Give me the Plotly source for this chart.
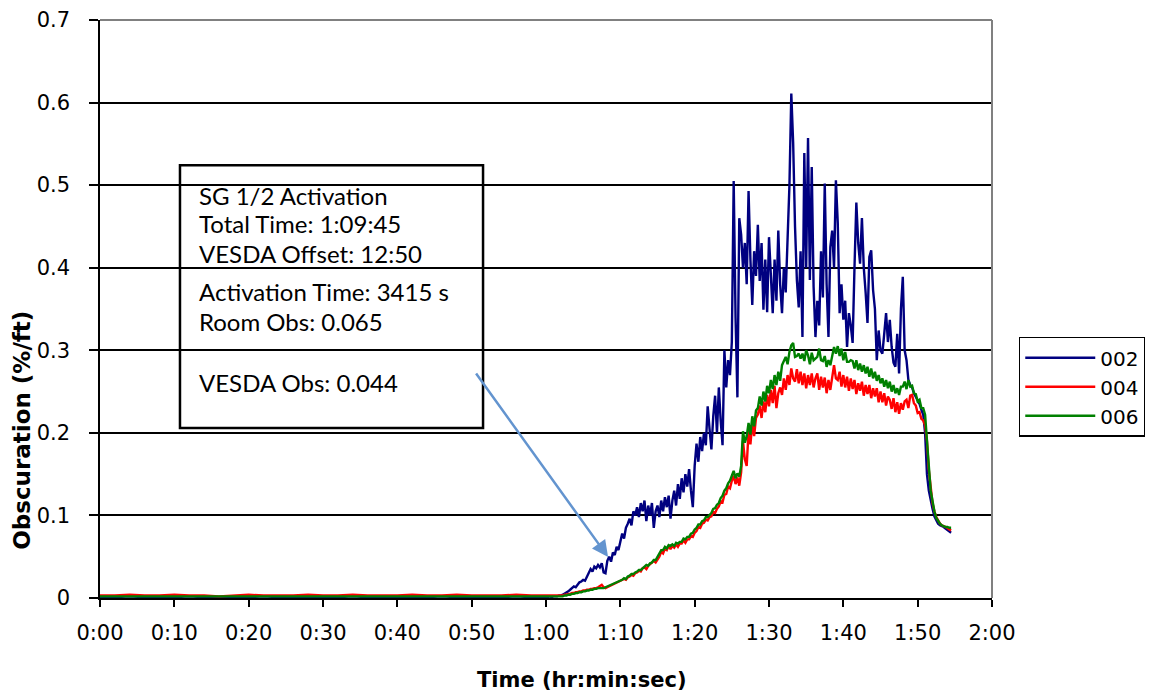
import plotly.graph_objects as go

# ---------------- data (minutes, %/ft) ----------------
tick_minutes = [0, 10, 20, 30, 40, 50, 60, 70, 80, 90, 100, 110, 120]
tick_labels = ["0:00", "0:10", "0:20", "0:30", "0:40", "0:50", "1:00",
               "1:10", "1:20", "1:30", "1:40", "1:50", "2:00"]

# baseline samples every 2 min from 0:00 to 1:00
t_base = list(range(0, 61, 2))
blue_base = [0.001, 0.001, 0.002, 0.001, 0.001, 0.001, 0.002, 0.001, 0.001, 0.001, 0.001,
             0.002, 0.001, 0.001, 0.001, 0.001, 0.001, 0.002, 0.001, 0.001, 0.001, 0.001,
             0.001, 0.002, 0.001, 0.001, 0.001, 0.001, 0.002, 0.001, 0.001]
red_base = [0.003, 0.003, 0.004, 0.003, 0.003, 0.004, 0.003, 0.003, 0.002, 0.003, 0.004,
            0.003, 0.003, 0.003, 0.004, 0.003, 0.003, 0.004, 0.003, 0.003, 0.003, 0.004,
            0.003, 0.003, 0.004, 0.003, 0.003, 0.003, 0.004, 0.003, 0.003]
green_base = [0.002, 0.002, 0.002, 0.002, 0.002, 0.002, 0.002, 0.002, 0.002, 0.002, 0.002,
              0.002, 0.002, 0.002, 0.002, 0.002, 0.002, 0.002, 0.002, 0.002, 0.002, 0.002,
              0.002, 0.002, 0.002, 0.002, 0.002, 0.002, 0.002, 0.002, 0.002]

# active period, sampled every 15 s from 1:00:15 to 1:54:30 (rows = one minute each)
blue_active = [
    0.001, 0.002, 0.001, 0.002,   # 60
    0.002, 0.002, 0.003, 0.003,   # 61
    0.004, 0.005, 0.007, 0.008,   # 62
    0.010, 0.012, 0.014, 0.013,   # 63
    0.016, 0.019, 0.020, 0.022,   # 64
    0.021, 0.026, 0.030, 0.035,   # 65
    0.032, 0.038, 0.036, 0.040,   # 66
    0.037, 0.042, 0.031, 0.030,   # 67
    0.045, 0.050, 0.044, 0.055,   # 68
    0.052, 0.062, 0.058, 0.067,   # 69
    0.078, 0.072, 0.085, 0.090,   # 70
    0.096, 0.088, 0.105, 0.100,   # 71
    0.110, 0.098, 0.115, 0.105,   # 72
    0.118, 0.093, 0.112, 0.100,   # 73
    0.115, 0.085, 0.105, 0.112,   # 74
    0.098, 0.118, 0.105, 0.122,   # 75
    0.110, 0.124, 0.096, 0.118,   # 76
    0.130, 0.112, 0.138, 0.120,   # 77
    0.145, 0.128, 0.150, 0.135,   # 78
    0.156, 0.130, 0.110, 0.160,   # 79
    0.187, 0.165, 0.195, 0.178,   # 80
    0.200, 0.185, 0.232, 0.205,   # 81
    0.180, 0.220, 0.245, 0.200,   # 82
    0.255, 0.215, 0.185, 0.300,   # 83
    0.255, 0.288, 0.270, 0.310,   # 84
    0.505, 0.340, 0.243, 0.460,   # 85
    0.440, 0.400, 0.430, 0.380,   # 86
    0.493, 0.410, 0.355, 0.420,   # 87
    0.390, 0.452, 0.384, 0.430,   # 88
    0.349, 0.410, 0.346, 0.437,   # 89
    0.390, 0.345, 0.410, 0.360,   # 90
    0.445, 0.380, 0.345, 0.400,   # 91
    0.370, 0.425, 0.500, 0.611,   # 92
    0.551, 0.450, 0.385, 0.352,   # 93
    0.420, 0.316, 0.539, 0.400,   # 94
    0.557, 0.385, 0.522, 0.377,   # 95
    0.316, 0.360, 0.330, 0.420,   # 96
    0.364, 0.502, 0.380, 0.316,   # 97
    0.425, 0.445, 0.400, 0.506,   # 98
    0.454, 0.345, 0.380, 0.337,   # 99
    0.360, 0.304, 0.345, 0.330,   # 100
    0.309, 0.400, 0.479, 0.430,   # 101
    0.405, 0.460, 0.400, 0.370,   # 102
    0.333, 0.413, 0.421, 0.373,   # 103
    0.350, 0.288, 0.324, 0.300,   # 104
    0.296, 0.320, 0.345, 0.310,   # 105
    0.337, 0.304, 0.285, 0.280,   # 106
    0.320, 0.272, 0.350, 0.389,   # 107
    0.300, 0.288, 0.264, 0.258,   # 108
    0.255, 0.248, 0.244, 0.240,   # 109
    0.235, 0.228, 0.222, 0.200,   # 110
    0.150, 0.130, 0.118, 0.108,   # 111
    0.099, 0.094, 0.090, 0.088,   # 112
    0.087, 0.086, 0.084, 0.082,   # 113
    0.080, 0.079,                 # 114
]
red_active = [
    0.003, 0.003, 0.003, 0.003,   # 60
    0.003, 0.003, 0.003, 0.003,   # 61
    0.003, 0.004, 0.004, 0.005,   # 62
    0.005, 0.006, 0.006, 0.007,   # 63
    0.007, 0.008, 0.008, 0.009,   # 64
    0.009, 0.010, 0.010, 0.011,   # 65
    0.011, 0.012, 0.012, 0.013,   # 66
    0.014, 0.016, 0.013, 0.012,   # 67
    0.013, 0.014, 0.015, 0.016,   # 68
    0.017, 0.018, 0.019, 0.020,   # 69
    0.021, 0.023, 0.022, 0.025,   # 70
    0.026, 0.028, 0.027, 0.030,   # 71
    0.031, 0.033, 0.032, 0.036,   # 72
    0.037, 0.035, 0.039, 0.041,   # 73
    0.042, 0.045, 0.043, 0.047,   # 74
    0.050, 0.056, 0.054, 0.060,   # 75
    0.058, 0.063, 0.059, 0.063,   # 76
    0.061, 0.065, 0.062, 0.066,   # 77
    0.066, 0.070, 0.067, 0.071,   # 78
    0.071, 0.075, 0.074, 0.079,   # 79
    0.081, 0.086, 0.085, 0.090,   # 80
    0.091, 0.095, 0.094, 0.098,   # 81
    0.099, 0.104, 0.103, 0.108,   # 82
    0.111, 0.117, 0.116, 0.125,   # 83
    0.126, 0.135, 0.133, 0.142,   # 84
    0.148, 0.138, 0.146, 0.136,   # 85
    0.152, 0.190, 0.168, 0.160,   # 86
    0.202, 0.186, 0.212, 0.196,   # 87
    0.218, 0.222, 0.233, 0.218,   # 88
    0.238, 0.225, 0.246, 0.232,   # 89
    0.252, 0.236, 0.257, 0.230,   # 90
    0.248, 0.255, 0.246, 0.266,   # 91
    0.252, 0.270, 0.258, 0.278,   # 92
    0.266, 0.262, 0.277, 0.260,   # 93
    0.274, 0.258, 0.272, 0.254,   # 94
    0.270, 0.258, 0.272, 0.255,   # 95
    0.266, 0.272, 0.252, 0.268,   # 96
    0.255, 0.267, 0.248, 0.264,   # 97
    0.252, 0.267, 0.282, 0.266,   # 98
    0.264, 0.274, 0.256, 0.270,   # 99
    0.255, 0.268, 0.251, 0.266,   # 100
    0.253, 0.264, 0.247, 0.260,   # 101
    0.251, 0.262, 0.245, 0.258,   # 102
    0.247, 0.258, 0.242, 0.254,   # 103
    0.244, 0.254, 0.237, 0.250,   # 104
    0.237, 0.248, 0.233, 0.244,   # 105
    0.240, 0.229, 0.242, 0.225,   # 106
    0.237, 0.223, 0.236, 0.228,   # 107
    0.238, 0.240, 0.230, 0.245,   # 108
    0.246, 0.236, 0.233, 0.224,   # 109
    0.225, 0.217, 0.215, 0.209,   # 110
    0.190, 0.155, 0.130, 0.115,   # 111
    0.105, 0.098, 0.094, 0.090,   # 112
    0.088, 0.087, 0.086, 0.085,   # 113
    0.083, 0.082,                 # 114
]
green_active = [
    0.002, 0.002, 0.002, 0.002,   # 60
    0.002, 0.002, 0.002, 0.002,   # 61
    0.002, 0.003, 0.003, 0.004,   # 62
    0.004, 0.005, 0.005, 0.006,   # 63
    0.006, 0.007, 0.007, 0.008,   # 64
    0.008, 0.009, 0.009, 0.010,   # 65
    0.010, 0.011, 0.011, 0.012,   # 66
    0.012, 0.012, 0.012, 0.013,   # 67
    0.014, 0.015, 0.016, 0.017,   # 68
    0.018, 0.019, 0.020, 0.021,   # 69
    0.022, 0.024, 0.023, 0.026,   # 70
    0.027, 0.029, 0.029, 0.031,   # 71
    0.032, 0.034, 0.034, 0.036,   # 72
    0.038, 0.040, 0.039, 0.042,   # 73
    0.043, 0.046, 0.046, 0.050,   # 74
    0.054, 0.058, 0.058, 0.062,   # 75
    0.060, 0.064, 0.063, 0.065,   # 76
    0.063, 0.067, 0.066, 0.068,   # 77
    0.068, 0.072, 0.071, 0.074,   # 78
    0.074, 0.078, 0.079, 0.083,   # 79
    0.085, 0.089, 0.089, 0.093,   # 80
    0.094, 0.098, 0.098, 0.101,   # 81
    0.103, 0.108, 0.109, 0.113,   # 82
    0.115, 0.121, 0.124, 0.130,   # 83
    0.133, 0.139, 0.142, 0.148,   # 84
    0.154, 0.145, 0.151, 0.147,   # 85
    0.160, 0.202, 0.188, 0.196,   # 86
    0.212, 0.198, 0.220, 0.208,   # 87
    0.227, 0.230, 0.244, 0.233,   # 88
    0.250, 0.238, 0.257, 0.248,   # 89
    0.264, 0.253, 0.270, 0.258,   # 90
    0.274, 0.263, 0.282, 0.287,   # 91
    0.292, 0.283, 0.298, 0.306,   # 92
    0.309, 0.292, 0.293, 0.296,   # 93
    0.290, 0.296, 0.287, 0.300,   # 94
    0.294, 0.283, 0.297, 0.288,   # 95
    0.290, 0.292, 0.302, 0.288,   # 96
    0.287, 0.293, 0.280, 0.288,   # 97
    0.282, 0.292, 0.304, 0.296,   # 98
    0.305, 0.293, 0.302, 0.288,   # 99
    0.298, 0.286, 0.286, 0.288,   # 100
    0.287, 0.278, 0.288, 0.276,   # 101
    0.284, 0.274, 0.282, 0.272,   # 102
    0.280, 0.268, 0.278, 0.266,   # 103
    0.274, 0.263, 0.270, 0.260,   # 104
    0.266, 0.256, 0.264, 0.254,   # 105
    0.262, 0.250, 0.258, 0.248,   # 106
    0.254, 0.246, 0.256, 0.256,   # 107
    0.262, 0.253, 0.264, 0.256,   # 108
    0.257, 0.248, 0.247, 0.238,   # 109
    0.240, 0.230, 0.230, 0.222,   # 110
    0.195, 0.160, 0.130, 0.115,   # 111
    0.105, 0.097, 0.093, 0.090,   # 112
    0.088, 0.087, 0.086, 0.086,   # 113
    0.085, 0.085,                 # 114
]

series_names = ["002", "004", "006"]
series_colors = ["#000080", "#ff0000", "#008000"]

box_lines = ["SG 1/2 Activation", "Total Time: 1:09:45", "VESDA Offset: 12:50",
             "Activation Time: 3415 s", "Room Obs: 0.065", "VESDA Obs: 0.044"]

# ---------------- build ----------------
n_act = min(len(blue_active), len(red_active), len(green_active))
t_active = [60.25 + 0.25 * i for i in range(n_act)]
t_all = t_base + t_active
series = [blue_base + blue_active[:n_act],
          red_base + red_active[:n_act],
          green_base + green_active[:n_act]]

fig = go.Figure()
for name, col, vals in zip(series_names, series_colors, series):
    fig.add_trace(go.Scatter(x=t_all, y=vals, mode="lines", name=name,
                             line=dict(color=col, width=2.4)))

TICKFONT = dict(family="DejaVu Sans", size=21, color="black")

# the page body has an 8px margin, so the figure is 8px smaller than the window
fig.update_layout(
    width=1145, height=685,
    margin=dict(l=92, r=161, t=12, b=95, autoexpand=False),
    plot_bgcolor="white", paper_bgcolor="white",
    showlegend=True,
    legend=dict(x=1.030, y=0.452, xanchor="left", yanchor="top",
                bordercolor="black", borderwidth=1.5, bgcolor="white",
                font=dict(family="DejaVu Sans", size=20, color="black"),
                itemwidth=70, tracegroupgap=0, entrywidth=140),
)
fig.update_xaxes(range=[0, 120], tickvals=tick_minutes, ticktext=tick_labels,
                 showgrid=False, zeroline=False, showline=True, linecolor="black",
                 linewidth=1.5, ticks="outside", ticklen=7, tickcolor="black",
                 tickwidth=1.5, tickfont=TICKFONT, ticklabelstandoff=8, automargin=False)
fig.update_yaxes(range=[0, 0.7], dtick=0.1, tick0=0, showgrid=True, gridcolor="black",
                 gridwidth=2, zeroline=False, showline=True, linecolor="black",
                 linewidth=1.5, ticks="outside", ticklen=9, tickcolor="black",
                 tickwidth=1.5, tickfont=TICKFONT, ticklabelstandoff=15, automargin=False)

# gray top/right border of plot area
fig.add_shape(type="line", xref="paper", yref="paper", x0=0, x1=1, y0=1, y1=1,
              line=dict(color="#808080", width=2))
fig.add_shape(type="line", xref="paper", yref="paper", x0=1, x1=1, y0=0, y1=1,
              line=dict(color="#808080", width=2))

# axis titles
fig.add_annotation(text="<b>Time (hr:min:sec)</b>", xref="paper", yref="paper",
                   x=0.540, y=-0.142, xanchor="center", yanchor="middle", showarrow=False,
                   font=dict(family="DejaVu Sans", size=21, color="black"))
fig.add_annotation(text="<b>Obscuration (%/ft)</b>", xref="paper", yref="paper",
                   x=-0.087, y=0.29, xanchor="center", yanchor="middle", showarrow=False,
                   textangle=-90,
                   font=dict(family="DejaVu Sans", size=23, color="black"))

# text box
fig.add_shape(type="rect", xref="x", yref="y", x0=10.76, x1=51.53, y0=0.2058, y1=0.5242,
              line=dict(color="black", width=2.5), fillcolor="rgba(0,0,0,0)")
line_y = [0.4878, 0.4539, 0.4175, 0.3715, 0.3352, 0.2614]
for txt, yy in zip(box_lines, line_y):
    fig.add_annotation(text=txt, x=13.0, y=yy, xref="x", yref="y", xanchor="left",
                       yanchor="middle", showarrow=False,
                       font=dict(family="Lato", size=24, color="black"))

# arrow
fig.add_annotation(text="", x=68.35, y=0.0496, ax=50.45, ay=0.2736,
                   xref="x", yref="y", axref="x", ayref="y", showarrow=True,
                   arrowhead=2, arrowsize=1.3, arrowwidth=2.5, arrowcolor="#6394cf",
                   standoff=0)

fig.write_html("out.html")
